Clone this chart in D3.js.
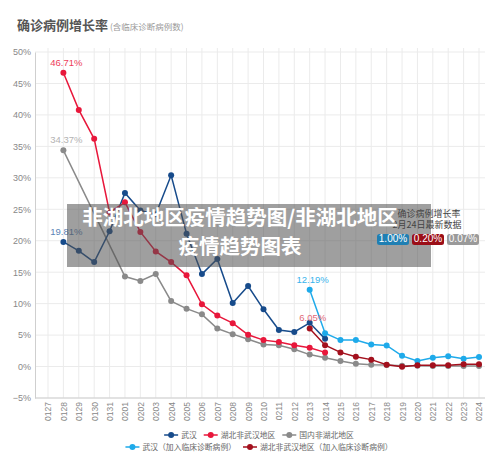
<!DOCTYPE html>
<html><head><meta charset="utf-8">
<script src="https://cdn.jsdelivr.net/npm/d3@7/dist/d3.min.js"></script>
<style>
body{margin:0;background:#fff;}
svg{display:block;font-family:"Liberation Sans","Noto Sans CJK SC",sans-serif;}
</style></head>
<body>
<svg id="c" width="500" height="471"></svg>
<script>
const dates = ["0127","0128","0129","0130","0131","0201","0202","0203","0204","0205","0206","0207","0208","0209","0210","0211","0212","0213","0214","0215","0216","0217","0218","0219","0220","0221","0222","0223","0224"];
const yTicks = [-5,0,5,10,15,20,25,30,35,40,45,50];
const wuhan      = [null,19.81,18.4,16.6,21.5,27.6,24.8,24.2,30.4,21.1,14.7,17.1,10.1,12.8,9.1,5.8,5.5,6.95,4.4,null,null,null,null,null,null,null,null,null,null];
const hubeiOther = [null,46.71,40.8,36.2,24.5,26.1,21.4,18.3,16.6,14.5,9.9,8.1,6.9,5.05,4.2,3.9,3.4,3.0,2.25,null,null,null,null,null,null,null,null,null,null];
const nonHubei   = [null,34.37,null,null,null,14.3,13.6,14.7,10.4,9.2,8.3,6.05,5.15,4.35,3.5,3.4,2.75,1.9,1.4,0.87,0.45,0.3,0.24,0.13,0.13,0.1,0.1,0.08,0.07];
const wuhanClin  = [null,null,null,null,null,null,null,null,null,null,null,null,null,null,null,null,null,12.19,5.3,4.2,4.2,3.5,3.35,1.7,0.87,1.4,1.65,1.25,1.5];
const hubeiClin  = [null,null,null,null,null,null,null,null,null,null,null,null,null,null,null,null,null,6.05,3.4,2.25,1.55,1.1,0.3,-0.05,0.2,0.2,0.2,0.35,0.35];
const seriesNames = ["武汉","湖北非武汉地区","国内非湖北地区","武汉（加入临床诊断病例）","湖北非武汉地区（加入临床诊断病例）"];
const seriesColors = ["#174b8b","#e8173b","#8a8a8a","#1eaaea","#a3101d"];
const badges = ["1.00%","0.20%","0.07%"];
const badgeColors = ["#1f7fb3","#9b0e17","#9a9a9a"];

const svg = d3.select("#c");
const x = d3.scalePoint().domain(dates).range([48,479]);
const y = d3.scaleLinear().domain([-5,50]).range([398,52]);

// title
svg.append("text").attr("x",17).attr("y",30).attr("font-size",13).attr("font-weight","bold").attr("fill","#555")
  .attr("font-family","Noto Sans CJK SC").text("确诊病例增长率");
svg.append("text").attr("x",110).attr("y",30).attr("font-size",8.5).attr("fill","#999")
  .attr("font-family","Noto Sans CJK SC").text("(含临床诊断病例数)");

// grid
const g = svg.append("g");
g.selectAll("line.h").data(yTicks).join("line")
  .attr("x1",35).attr("x2",485).attr("y1",d=>y(d)).attr("y2",d=>y(d))
  .attr("stroke","#ebebeb").attr("stroke-width",1);
g.selectAll("line.v").data(dates).join("line")
  .attr("x1",d=>x(d)).attr("x2",d=>x(d)).attr("y1",48).attr("y2",398)
  .attr("stroke","#ebebeb").attr("stroke-width",1);

// axes
const yAxis = svg.append("g").attr("transform","translate(35,0)")
  .call(d3.axisLeft(y).tickValues(yTicks).tickSize(0).tickPadding(4).tickFormat(d=>(d<0?"−"+(-d):d)+"%"));
yAxis.select(".domain").attr("stroke","#cfcfcf");
yAxis.selectAll("text").attr("font-size",9).attr("fill","#888").attr("font-family","Liberation Sans");

const xAxis = svg.append("g").attr("transform","translate(0,398)")
  .call(d3.axisBottom(x).tickSize(0).tickPadding(0));
xAxis.select(".domain").attr("stroke","#cfcfcf").attr("d","M35,0H485");
xAxis.selectAll("text").attr("font-size",8.5).attr("fill","#888").attr("font-family","Liberation Sans")
  .attr("text-anchor","end").attr("transform","translate(0,4) rotate(-90)").attr("dy","0.35em").attr("y",0).attr("x",0);

// series
const allSeries = [wuhan,hubeiOther,nonHubei,wuhanClin,hubeiClin];
const drawOrder = [2,0,1,3,4];
const line = d3.line().x(d=>x(d.k)).y(d=>y(d.v));
drawOrder.forEach(i=>{
  const pts = allSeries[i].map((v,j)=>({k:dates[j],v})).filter(d=>d.v!==null);
  svg.append("path").datum(pts).attr("d",line).attr("fill","none")
    .attr("stroke",seriesColors[i]).attr("stroke-width",1.5);
  svg.append("g").selectAll("circle").data(pts).join("circle")
    .attr("cx",d=>x(d.k)).attr("cy",d=>y(d.v)).attr("r",3).attr("fill",seriesColors[i]);
});

// value labels
const labels = [
  {s:1,i:1,t:"46.71%",c:"#ee3c5a"},
  {s:2,i:1,t:"34.37%",c:"#b3b3b3"},
  {s:0,i:1,t:"19.81%",c:"#5a84b6"},
  {s:3,i:17,t:"12.19%",c:"#38b3ec"},
  {s:4,i:17,t:"6.05%",c:"#e26a78"}
];
labels.forEach(l=>{
  const v = allSeries[l.s][l.i];
  svg.append("text").attr("x",x(dates[l.i])+3).attr("y",y(v)-7).attr("text-anchor","middle")
    .attr("font-size",9.5).attr("fill",l.c).attr("font-family","Liberation Sans").text(l.t);
});

// legend
const rows = [[0,1,2],[3,4]];
const rowY = [435,447];
rows.forEach((r,ri)=>{
  const lg = svg.append("g");
  let cx = 0;
  r.forEach(i=>{
    const it = lg.append("g").attr("transform",`translate(${cx},0)`);
    it.append("line").attr("x1",0).attr("x2",14).attr("stroke",seriesColors[i]).attr("stroke-width",1.5);
    it.append("circle").attr("cx",7).attr("r",3).attr("fill",seriesColors[i]);
    const t = it.append("text").attr("x",17).attr("dy","0.35em").attr("font-size",7.8).attr("fill","#666")
      .attr("font-family","Noto Sans CJK SC").text(seriesNames[i]);
    cx += 17 + t.node().getComputedTextLength() + 7;
  });
  const w = cx - 7;
  lg.attr("transform",`translate(${259 - w/2},${rowY[ri]})`);
});

// overlay box
svg.append("rect").attr("x",67).attr("y",204).attr("width",364).attr("height",63).attr("fill","rgba(80,80,80,0.55)");

// annotation
svg.append("text").attr("x",429).attr("y",215).attr("text-anchor","middle").attr("dominant-baseline","middle")
  .attr("font-size",9).attr("fill","#444").attr("font-family","Noto Sans CJK SC").text("确诊病例增长率");
svg.append("text").attr("x",427).attr("y",226).attr("text-anchor","middle").attr("dominant-baseline","middle")
  .attr("font-size",9).attr("fill","#444").attr("font-family","Noto Sans CJK SC").text("2月24日最新数据");
const bx = [377,412,447];
badges.forEach((b,i)=>{
  svg.append("rect").attr("x",bx[i]).attr("y",234).attr("width",32).attr("height",11).attr("rx",2.5).attr("fill",badgeColors[i]);
  svg.append("text").attr("x",bx[i]+16).attr("y",239.7).attr("text-anchor","middle").attr("dominant-baseline","middle")
    .attr("font-size",10).attr("fill","#fff").attr("font-family","Liberation Sans").text(b);
});

// overlay title
svg.append("text").attr("x",240).attr("y",219).attr("text-anchor","middle").attr("dominant-baseline","middle")
  .attr("font-size",20.5).attr("font-weight","bold").attr("fill","#fff").attr("font-family","Noto Sans CJK SC")
  .text("非湖北地区疫情趋势图/非湖北地区");
svg.append("text").attr("x",240).attr("y",248).attr("text-anchor","middle").attr("dominant-baseline","middle")
  .attr("font-size",20.5).attr("font-weight","bold").attr("fill","#fff").attr("font-family","Noto Sans CJK SC")
  .text("疫情趋势图表");
</script>
</body></html>
